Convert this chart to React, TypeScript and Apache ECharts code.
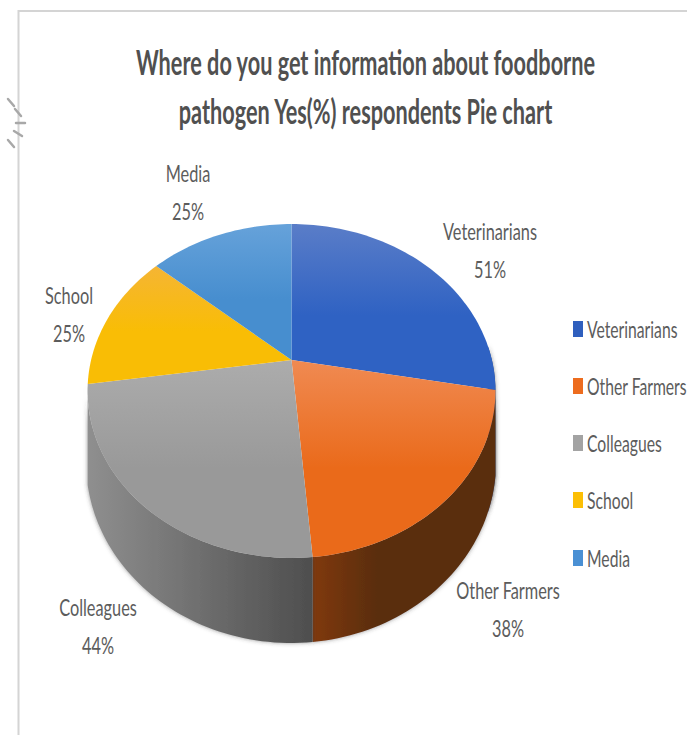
import React, { useEffect, useRef } from "react";
import * as echarts from "echarts";

const titleLines = [
  "Where do you get information about foodborne",
  "pathogen Yes(%) respondents Pie chart",
];
const categories = ["Veterinarians", "Other Farmers", "Colleagues", "School", "Media"];
const yesPercent = [51, 38, 44, 25, 25];
const topColours = [
  ["#5a7dc8", "#2f62c3"],
  ["#f08a52", "#ea6a1a"],
  ["#acacac", "#999999"],
  ["#f5b534", "#f9bd05"],
  ["#66a2da", "#478ecf"],
];
const wallColours = [
  ["#2a4f95", "#24457f"],
  ["#80390b", "#5a2d0c"],
  ["#8f8f8f", "#4e4e4e"],
  ["#a98000", "#8f6d00"],
  ["#3a6a9a", "#2f5a85"],
];
const legendColours = ["#2f5fbe", "#ed6c1e", "#a3a3a3", "#fcbf05", "#4a90d4"];
const labelCentres = [
  [490, 250],
  [508, 609],
  [98, 626],
  [69, 314],
  [188, 192],
];
const legendRows = [329, 386, 443, 500, 558];

const FONT = "Lato, 'Open Sans', sans-serif";
const TEXT = "#5c5c5c";

// Perspective view of the pie: the disc's centre sits above the centre of its rim ellipse.
const APEX = { x: 291.5, y: 360 };
const DISC = { a: 200.4, b: 161.2, p: 0.1857 };
const BASE = { cx: 291, cy: 462, rx: 205, ry: 181 };
const WALL_FROM = 85;
const WALL_TO = 261;

function rim(deg: number): number[] {
  const t = (deg * Math.PI) / 180;
  const x = Math.sin(t);
  const y = -Math.cos(t);
  const d = 1 - DISC.p * y;
  return [APEX.x + (DISC.a * x) / d, APEX.y + (DISC.b * y) / d];
}

function baseUnder(pt: number[]): number[] {
  const u = Math.min(1, Math.abs(pt[0] - BASE.cx) / BASE.rx);
  return [pt[0], BASE.cy + BASE.ry * Math.sqrt(1 - u * u)];
}

function sweep(from: number, to: number): number[] {
  const list: number[] = [];
  const n = Math.max(2, Math.ceil((to - from) / 1.5));
  for (let i = 0; i <= n; i++) list.push(from + ((to - from) * i) / n);
  return list;
}

function vertical(c: string[]) {
  return new echarts.graphic.LinearGradient(0, 0, 0, 1, [
    { offset: 0, color: c[0] },
    { offset: 0.55, color: c[1] },
    { offset: 1, color: c[1] },
  ]);
}

function horizontal(c: string[], knee: number) {
  return new echarts.graphic.LinearGradient(0, 0, 1, 0, [
    { offset: 0, color: c[0] },
    { offset: knee, color: c[1] },
    { offset: 1, color: c[1] },
  ]);
}

function buildSeries() {
  const total = yesPercent.reduce((s, v) => s + v, 0);
  let running = 0;
  return categories.map((name, i) => {
    const start = (running / total) * 360;
    running += yesPercent[i];
    const end = (running / total) * 360;
    return {
      type: "custom" as const,
      name,
      coordinateSystem: "none",
      silent: true,
      itemStyle: { color: legendColours[i] },
      data: [yesPercent[i]],
      renderItem: () => {
        const children: any[] = [];
        const topPts = [[APEX.x, APEX.y], ...sweep(start, end).map(rim)];
        children.push({
          type: "polygon",
          z2: 10,
          shape: { points: topPts },
          style: { fill: vertical(topColours[i]) },
        });
        const from = Math.max(start, WALL_FROM);
        const to = Math.min(end, WALL_TO);
        if (to > from) {
          const upper = sweep(from, to).map(rim);
          const lower = upper.map(baseUnder).reverse();
          children.push({
            type: "polygon",
            z2: 2,
            shape: { points: [...upper, ...lower] },
            style: {
              fill: horizontal(wallColours[i], i === 1 ? 0.35 : 1),
              shadowBlur: 4,
              shadowColor: "rgba(60,60,60,0.55)",
            },
          });
        }
        const [lx, ly] = labelCentres[i];
        children.push({
          type: "text",
          z2: 20,
          x: lx,
          y: ly,
          scaleX: 0.68,
          style: {
            text: `${name}\n${yesPercent[i]}%`,
            font: `24px ${FONT}`,
            lineHeight: 38,
            fill: TEXT,
            align: "center",
            verticalAlign: "middle",
          },
        });
        return { type: "group", children };
      },
    };
  });
}

const handleDashes = [
  [8, 99, 14, 106],
  [15, 109, 21, 116],
  [16, 123, 25, 123],
  [14, 131, 22, 136],
  [8, 140, 14, 147],
];

export default function App() {
  const ref = useRef<HTMLDivElement>(null);
  useEffect(() => {
    const chart = echarts.init(ref.current!, undefined, { renderer: "svg" });
    chart.setOption({
      animation: false,
      backgroundColor: "#ffffff",
      graphic: [
        {
          type: "polyline",
          silent: true,
          shape: { points: [[18.5, 735], [18.5, 11], [687, 11]] },
          style: { stroke: "#d4d4d4", lineWidth: 2, fill: "none" },
        },
        ...handleDashes.map(([x1, y1, x2, y2]) => ({
          type: "line",
          silent: true,
          shape: { x1, y1, x2, y2 },
          style: { stroke: "#a8a8a8", lineWidth: 2.5, lineCap: "round" },
        })),
        ...titleLines.map((text, i) => ({
          type: "text",
          silent: true,
          x: 365.5,
          y: 61 + i * 49,
          scaleX: 0.62,
          style: {
            text,
            font: `bold 35px ${FONT}`,
            fill: "#505050",
            align: "center",
            verticalAlign: "middle",
          },
        })),
        ...categories.flatMap((name, i) => [
          {
            type: "rect",
            silent: true,
            shape: { x: 573, y: legendRows[i] - 8, width: 10, height: 16 },
            style: { fill: legendColours[i] },
          },
          {
            type: "text",
            silent: true,
            x: 587,
            y: legendRows[i],
            scaleX: 0.655,
            style: {
              text: name,
              font: `24px ${FONT}`,
              fill: TEXT,
              align: "left",
              verticalAlign: "middle",
            },
          },
        ]),
      ],
      series: buildSeries(),
    });
    return () => chart.dispose();
  }, []);
  return (
    <div
      ref={ref}
      style={{ position: "fixed", left: 0, top: 0, width: 687, height: 735 }}
    />
  );
}
